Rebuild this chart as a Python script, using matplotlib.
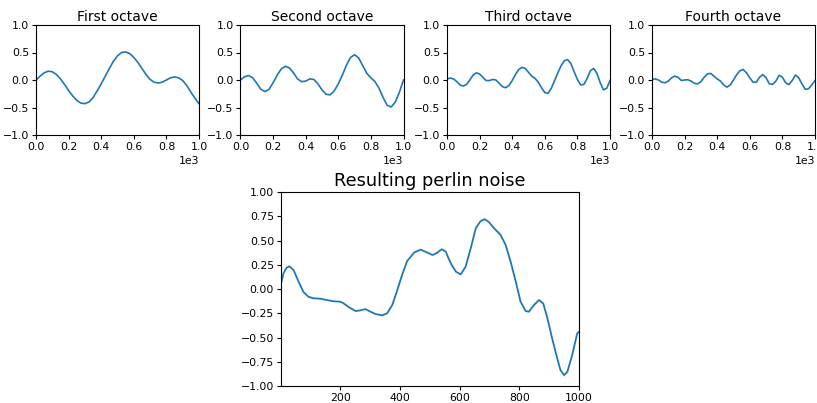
import numpy as np
import matplotlib
matplotlib.use("Agg")
import matplotlib.pyplot as plt

# values
x_first = np.arange(0, 1001, 25)
first = [0.0, 0.07, 0.13, 0.16, 0.15, 0.10, 0.02, -0.08, -0.19, -0.29, -0.37,
         -0.42, -0.43, -0.40, -0.32, -0.20, -0.07, 0.07, 0.21, 0.34, 0.44,
         0.50, 0.51, 0.48, 0.41, 0.32, 0.21, 0.10, 0.01, -0.04, -0.055,
         -0.04, 0.00, 0.04, 0.055, 0.04, -0.01, -0.10, -0.22, -0.33, -0.43]

x_second = np.arange(0, 1001, 25)
second = [0.0, 0.06, 0.08, 0.04, -0.06, -0.17, -0.21, -0.17, -0.05, 0.09, 0.20,
          0.25, 0.22, 0.13, 0.02, -0.03, -0.02, 0.02, 0.01, -0.07, -0.18,
          -0.26, -0.27, -0.20, -0.07, 0.09, 0.27, 0.41, 0.46, 0.40, 0.26,
          0.12, 0.04, -0.03, -0.15, -0.32, -0.46, -0.49, -0.40, -0.22, 0.0]

x_third = np.arange(0, 1001, 20)
third = [0.02, 0.035, 0.02, -0.03, -0.09, -0.11, -0.08, 0.00, 0.09, 0.13,
         0.11, 0.05, -0.01, -0.01, 0.01, 0.00, -0.06, -0.12, -0.14, -0.10,
         -0.01, 0.10, 0.19, 0.23, 0.21, 0.14, 0.07, 0.03, -0.04, -0.14,
         -0.23, -0.24, -0.15, -0.01, 0.13, 0.26, 0.35, 0.37, 0.30, 0.15,
         0.01, -0.09, -0.08, 0.03, 0.17, 0.21, 0.12, -0.05, -0.18, -0.15, -0.01]

x_fourth = np.arange(0, 1001, 20)
fourth = [0.01, 0.02, 0.00, -0.04, -0.05, -0.02, 0.04, 0.07, 0.05, -0.01,
          0.00, 0.005, -0.02, -0.06, -0.07, -0.03, 0.05, 0.11, 0.12, 0.07,
          0.02, -0.02, -0.09, -0.13, -0.09, 0.00, 0.10, 0.17, 0.19, 0.13,
          0.04, -0.04, -0.04, 0.05, 0.10, 0.04, -0.07, -0.08, -0.02, 0.085,
          0.05, -0.05, -0.085, -0.01, 0.09, 0.04, -0.07, -0.17, -0.16, -0.09, -0.01]

x_result = [0, 9, 20, 29, 43, 60, 76, 93, 110, 133, 155, 178, 200, 211, 228,
            251, 268, 284, 301, 318, 340, 357, 374, 391, 407, 424, 447, 469,
            492, 509, 525, 540, 553, 570, 587, 603, 620, 637, 654, 670, 684,
            698, 715, 737, 754, 771, 788, 804, 821, 832, 849, 866, 880, 894,
            910, 927, 938, 950, 961, 977, 994, 1000]
result = [0.04, 0.16, 0.22, 0.234, 0.196, 0.076, -0.03, -0.08, -0.096, -0.10,
          -0.114, -0.127, -0.131, -0.148, -0.186, -0.227, -0.22, -0.207,
          -0.234, -0.258, -0.272, -0.25, -0.165, -0.01, 0.145, 0.289, 0.375,
          0.406, 0.375, 0.35, 0.375, 0.41, 0.386, 0.265, 0.18, 0.15, 0.23,
          0.42, 0.627, 0.70, 0.72, 0.69, 0.627, 0.558, 0.455, 0.28, 0.076,
          -0.13, -0.227, -0.234, -0.165, -0.114, -0.148, -0.30, -0.51, -0.716,
          -0.837, -0.888, -0.854, -0.682, -0.458, -0.44]

titles = ["First octave", "Second octave", "Third octave", "Fourth octave"]
octaves = [(x_first, first), (x_second, second), (x_third, third), (x_fourth, fourth)]

W, H = 817, 403
fig = plt.figure(figsize=(W / 100, H / 100), dpi=100)

lefts = [36, 240.5, 447, 652]
for left, title, (xs, ys) in zip(lefts, titles, octaves):
    ax = fig.add_axes([left / W, (H - 135) / H, 163 / W, 110 / H])
    ax.plot(xs, ys, color="#1f77b4", lw=1.2)
    ax.set_xlim(0, 1000)
    ax.set_ylim(-1, 1)
    ax.set_yticks([-1.0, -0.5, 0.0, 0.5, 1.0])
    ax.ticklabel_format(axis="x", style="sci", scilimits=(0, 0))
    ax.tick_params(labelsize=7.8, length=3, pad=2)
    ax.xaxis.get_offset_text().set_fontsize(7.8)
    ax.set_title(title, fontsize=10, pad=3)

ax = fig.add_axes([281 / W, (H - 386) / H, 298 / W, 194 / H])
ax.plot(x_result, result, color="#1f77b4", lw=1.3)
ax.set_xlim(1, 1000)
ax.set_ylim(-1, 1)
ax.set_yticks(np.arange(-1, 1.01, 0.25))
ax.tick_params(labelsize=7.8, length=3, pad=2)
ax.set_title("Resulting perlin noise", fontsize=12.8, pad=4)

fig.savefig("out.png", dpi=100)
